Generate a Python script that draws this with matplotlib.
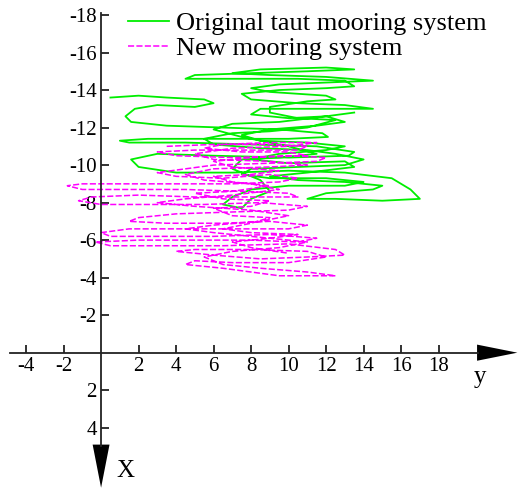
"""
Trajectoire du système d'amarrage : original vs nouveau.
"""
import matplotlib.pyplot as plt

plt.rcParams['font.family'] = ['Liberation Serif', 'DejaVu Serif']
plt.rcParams['axes.unicode_minus'] = False

# Variables
# trajectoire originale : y (horizontal), X (vertical)
orig_y = [0.5, 2.0, 3.5, 5.5, 6.0, 5.0, 3.0, 1.8, 1.3, 1.6, 3.5, 6.5, 9.5,
          11.8, 12.1, 10.0, 6.0, 2.5, 1.0, 1.5, 4.5, 8.0, 11.5, 13.5, 13.2,
          10.0, 6.0, 3.0, 1.6, 2.0, 4.0, 7.0, 10.0, 13.0, 15.5, 16.5, 17.0,
          15.0, 12.5, 11.0, 12.0, 14.5, 15.0, 13.0, 10.5, 9.0, 11.0, 13.5,
          13.0, 10.0, 8.0, 9.5, 12.0, 13.0, 11.0, 8.5, 7.5, 9.0, 11.5, 13.0,
          12.0, 10.0, 8.0, 8.5, 11.0, 14.5, 13.0, 10.5, 8.0, 7.5, 9.5, 12.0,
          13.5, 13.0, 10.5, 7.0, 4.5, 5.0, 8.0, 11.0, 13.5, 12.0, 8.5, 7.0,
          9.0, 12.0, 14.5, 12.0, 9.5, 8.0, 9.0, 12.0, 12.5, 11.0, 9.0, 9.0,
          10.5, 12.5, 11.0, 9.0, 7.0, 5.5, 6.0, 8.5, 11.0, 12.5, 14.0, 13.0,
          10.5, 8.0, 7.5, 9.0, 12.0, 14.0, 13.0, 10.0, 8.0, 7.0, 6.5, 7.5,
          8.0, 9.0, 8.5, 7.0, 7.5, 9.5, 11.5, 10.0, 7.5, 6.0, 7.0, 9.5, 12.0,
          13.5]
orig_x = [-13.6, -13.7, -13.6, -13.5, -13.3, -13.1, -13.2, -13.0, -12.6,
          -12.3, -12.1, -12.0, -11.9, -11.7, -11.5, -11.4, -11.4, -11.4,
          -11.3, -11.2, -11.2, -11.1, -11.0, -10.7, -10.5, -10.4, -10.5,
          -10.6, -10.3, -9.9, -9.6, -9.6, -9.7, -9.6, -9.3, -8.7, -8.2, -8.1,
          -8.2, -8.2, -8.5, -8.7, -8.9, -9.1, -9.2, -9.4, -9.6, -9.9, -10.2,
          -10.1, -10.3, -10.6, -10.8, -11.0, -11.2, -11.3, -11.6, -11.9,
          -12.1, -12.3, -12.6, -12.5, -12.7, -13.0, -13.0, -13.0, -13.2,
          -13.3, -13.5, -13.8, -14.0, -14.1, -14.2, -14.5, -14.6, -14.6,
          -14.6, -14.8, -14.9, -15.0, -15.1, -15.2, -15.1, -14.9, -14.8,
          -14.7, -14.5, -14.4, -14.3, -14.1, -13.9, -13.7, -13.5, -13.4,
          -13.1, -12.8, -12.5, -12.4, -12.0, -11.8, -11.7, -11.4, -11.1,
          -10.9, -10.8, -10.6, -10.3, -10.0, -9.9, -9.8, -9.5, -9.3, -9.3,
          -9.1, -8.9, -8.9, -8.7, -8.3, -7.9, -7.7, -8.2, -8.6, -9.2, -9.8,
          -10.3, -10.4, -10.6, -11.0, -11.5, -11.9, -12.2, -12.3, -12.6,
          -12.8]

# nouvelle trajectoire : y (horizontal), X (vertical)
new_y = [3.5, 6.0, 9.0, 11.0, 10.5, 8.0, 5.0, 3.0, 4.0, 7.0, 10.0, 12.0,
         11.5, 9.0, 6.0, 4.5, 3.0, 4.0, 6.5, 9.0, 10.5, 9.5, 7.0, 4.0, 1.0,
         -1.0, -1.8, -1.0, 1.5, 4.5, 7.5, 10.0, 10.5, 8.0, 5.0, 2.0, -0.5,
         -1.2, 0.0, 2.5, 5.5, 8.5, 11.0, 10.0, 7.0, 4.0, 2.0, 1.5, 3.5, 6.5,
         9.0, 11.0, 10.0, 7.0, 4.0, 1.5, 0.0, 0.5, 3.0, 6.0, 9.0, 11.5, 10.5,
         8.0, 5.0, 2.0, -0.3, 0.5, 3.5, 6.5, 10.0, 12.5, 13.0, 11.0, 8.5,
         6.0, 4.0, 5.0, 8.0, 11.0, 12.0, 10.0, 7.0, 5.0, 4.5, 6.5, 8.0, 9.5,
         12.5, 11.0, 8.5, 6.5, 5.5, 7.0, 9.5, 11.0, 9.0, 6.0, 4.5, 6.0, 8.5,
         10.0, 8.0, 5.0, 3.0, 4.5, 7.0, 9.5, 8.0, 5.5, 4.5, 6.0, 9.0, 11.0,
         9.0, 6.0, 5.0, 7.0, 10.0, 11.5, 9.0, 6.5, 5.5, 7.5, 10.0, 11.0, 8.0,
         6.0, 7.0, 9.5, 8.0, 6.0, 7.0, 9.0, 7.0, 5.0, 6.5, 9.0, 8.0, 6.0,
         7.0, 9.0, 8.0, 6.5, 8.0, 10.5, 9.0, 7.0, 8.0, 10.0]
new_x = [-11.0, -11.1, -11.1, -11.0, -10.8, -10.8, -10.8, -10.7, -10.5,
         -10.4, -10.5, -10.4, -10.2, -10.1, -10.0, -9.8, -9.6, -9.4, -9.3,
         -9.5, -9.3, -9.1, -9.0, -9.0, -9.0, -9.0, -8.9, -8.7, -8.7, -8.7,
         -8.6, -8.5, -8.3, -8.3, -8.3, -8.4, -8.3, -8.1, -7.9, -7.9, -7.9,
         -8.0, -7.8, -7.6, -7.5, -7.4, -7.2, -7.0, -6.9, -6.9, -7.0, -6.8,
         -6.6, -6.6, -6.6, -6.6, -6.4, -6.2, -6.2, -6.2, -6.3, -6.1, -5.9,
         -6.0, -6.0, -6.0, -5.9, -5.7, -5.7, -5.7, -5.8, -5.5, -5.2, -5.1,
         -5.0, -5.2, -5.4, -5.5, -5.5, -5.4, -5.1, -4.8, -4.8, -4.9, -4.7,
         -4.5, -4.3, -4.1, -4.1, -4.3, -4.5, -4.7, -5.1, -5.4, -5.6, -5.9,
         -6.1, -6.4, -6.6, -6.8, -7.0, -7.3, -7.6, -7.8, -8.0, -8.2, -8.4,
         -8.7, -9.0, -9.2, -9.5, -9.8, -9.9, -10.0, -10.2, -10.3, -10.6,
         -10.9, -11.0, -11.2, -11.2, -11.1, -10.9, -10.7, -10.7, -10.5,
         -10.4, -10.2, -9.9, -9.7, -9.5, -9.4, -9.1, -8.9, -8.6, -8.5, -8.2,
         -8.1, -7.8, -7.7, -7.3, -7.2, -6.9, -6.6, -6.4, -6.3, -6.1, -5.9,
         -5.6, -5.3]

xticks = [-4, -2, 2, 4, 6, 8, 10, 12, 14, 16, 18]
yticks = [-18, -16, -14, -12, -10, -8, -6, -4, -2, 2, 4]

# Plot
fig = plt.figure(figsize=(5.23, 4.93), dpi=100)
ax = fig.add_axes([0, 0, 1, 1])
ax.set_xlim(-5.39, 22.5)
ax.set_ylim(7.48, -18.8)

ax.plot(orig_y, orig_x, color='#00ee00', lw=1.3,
        label='Original taut mooring system')
ax.plot(new_y, new_x, color='#ff00ff', lw=1.1, dashes=(4, 1.5),
        label='New mooring system')

for s in ['top', 'right']:
    ax.spines[s].set_visible(False)
ax.spines['left'].set_position(('data', 0))
ax.spines['bottom'].set_position(('data', 0))
ax.spines['left'].set_bounds(-18.1, 5.0)
ax.spines['bottom'].set_bounds(-4.85, 20.1)
for s in ['left', 'bottom']:
    ax.spines[s].set_linewidth(1.3)
    ax.spines[s].set_color('#222222')

ax.set_xticks(xticks)
ax.set_yticks(yticks)
ax.tick_params(direction='in', length=6, width=1.3, labelsize=15, pad=3,
               color='#222222')

# fleches
ax.fill([20.05, 22.2, 20.05], [-0.43, 0, 0.43], color='black', lw=0)
ax.fill([-0.45, 0, 0.45], [4.9, 7.2, 4.9], color='black', lw=0)
ax.text(20.2, 1.3, 'y', fontsize=18, ha='center', va='center')
ax.text(1.3, 6.3, 'X', fontsize=18, ha='center', va='center')

ax.legend(loc='upper left', bbox_to_anchor=(0.215, 1.008), frameon=False,
          fontsize=19, handlelength=1.55, handletextpad=0.25,
          labelspacing=0.05, borderpad=0.1)

plt.savefig('out.png', dpi=100)
